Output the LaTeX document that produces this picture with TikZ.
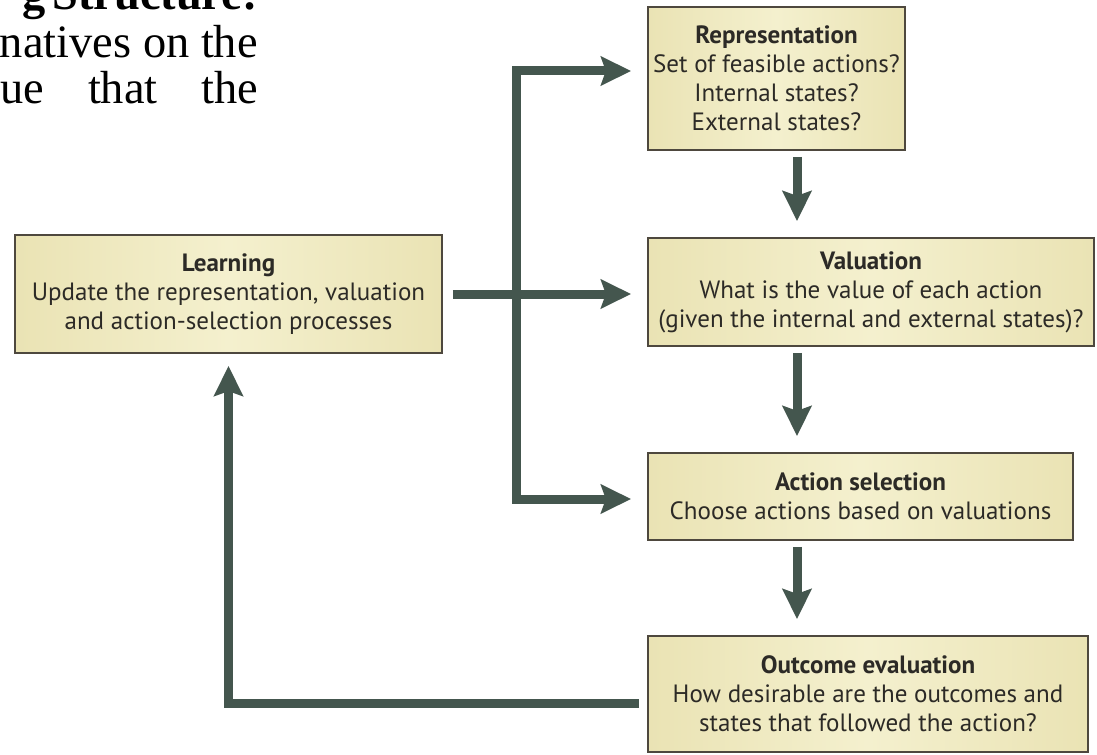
\documentclass[tikz,border=0pt]{standalone}
\usepackage{fontspec}
\setmainfont{PT Sans}
\newfontfamily\pagefont{Liberation Serif}
\usetikzlibrary{arrows.meta,positioning}

\definecolor{boxfill}{RGB}{234,227,180}
\definecolor{boxlight}{RGB}{244,240,206}
\definecolor{boxline}{RGB}{78,72,62}
\definecolor{flowcol}{RGB}{68,86,78}
\definecolor{boxtext}{RGB}{44,42,38}

\tikzset{
  stage/.style={draw=boxline, line width=1.3pt, left color=boxfill, right color=boxfill,
    middle color=boxlight, align=center, text=boxtext, inner sep=0pt,
    font=\fontsize{17.8}{20.6}\selectfont},
  flow/.style={draw=flowcol, line width=6.4pt,
    -{Stealth[length=0.75cm,width=0.72cm,inset=0.12cm]},
    shorten >=0.4cm},
  pagetext/.style={inner sep=0pt, font=\pagefont\fontsize{33}{33}\selectfont}
}

\begin{document}
\begin{tikzpicture}[x=0.025cm, y=-0.025cm]
  \useasboundingbox (0,0) rectangle (1097,755);

  % cut text of the page
  \begin{scope}
    \clip (0,0) rectangle (1097,755);
    \node[pagetext, anchor=base west] (hd) at (22,10) {\textbf{g}};
    \node[pagetext, anchor=base east] (hdr) at (258,10) {\textbf{Structure:}};
    \node[pagetext, anchor=base east] (ln2) at (258,58) {natives on the};
    \node[pagetext, anchor=base west] (ln3) at (0,104) {\hbox to 6.45cm{ue\hfill that\hfill the}};
  \end{scope}

  % boxes
  \node[stage, minimum width=6.425cm, minimum height=3.575cm] (rep) at (776.5,78.5)
    {\textbf{Representation}\\Set of feasible actions?\\Internal states?\\External states?};
  \node[stage, minimum width=11.15cm, minimum height=2.7cm] (val) at (871,292)
    {\textbf{Valuation}\\What is the value of each action\\(given the internal and external states)?};
  \node[stage, minimum width=10.625cm, minimum height=2.175cm] (act) at (860.5,496.5)
    {\textbf{Action selection}\\Choose actions based on valuations};
  \node[stage, minimum width=11cm, minimum height=2.9cm] (out) at (868,694)
    {\textbf{Outcome evaluation}\\How desirable are the outcomes and\\states that followed the action?};
  \node[stage, minimum width=10.675cm, minimum height=2.95cm] (learn) at (228.5,294)
    {\textbf{Learning}\\Update the representation, valuation\\and action-selection processes};

  % connectors
  \coordinate (dn) at (797,0);
  \coordinate (jtop) at (516,71);
  \coordinate (jbot) at (516,499);
  \coordinate (fb) at (640,703);

  \draw[flow, shorten <=0.15cm] (rep.south -| dn) -- (val.north -| dn);
  \draw[flow, shorten <=0.15cm] (val.south -| dn) -- (act.north -| dn);
  \draw[flow, shorten <=0.15cm] (act.south -| dn) -- (out.north -| dn);

  \draw[flow] (jbot) -- (jtop) -- (jtop -| rep.west);
  \draw[flow] (jtop) -- (jbot) -- (jbot -| act.west);
  \draw[flow, shorten <=0.25cm] (learn.east) -- (learn.east -| val.west);

  \draw[flow, shorten <=0.2cm, shorten >=0.3cm] (out.west |- fb) -| (learn.south);

\end{tikzpicture}
\end{document}
